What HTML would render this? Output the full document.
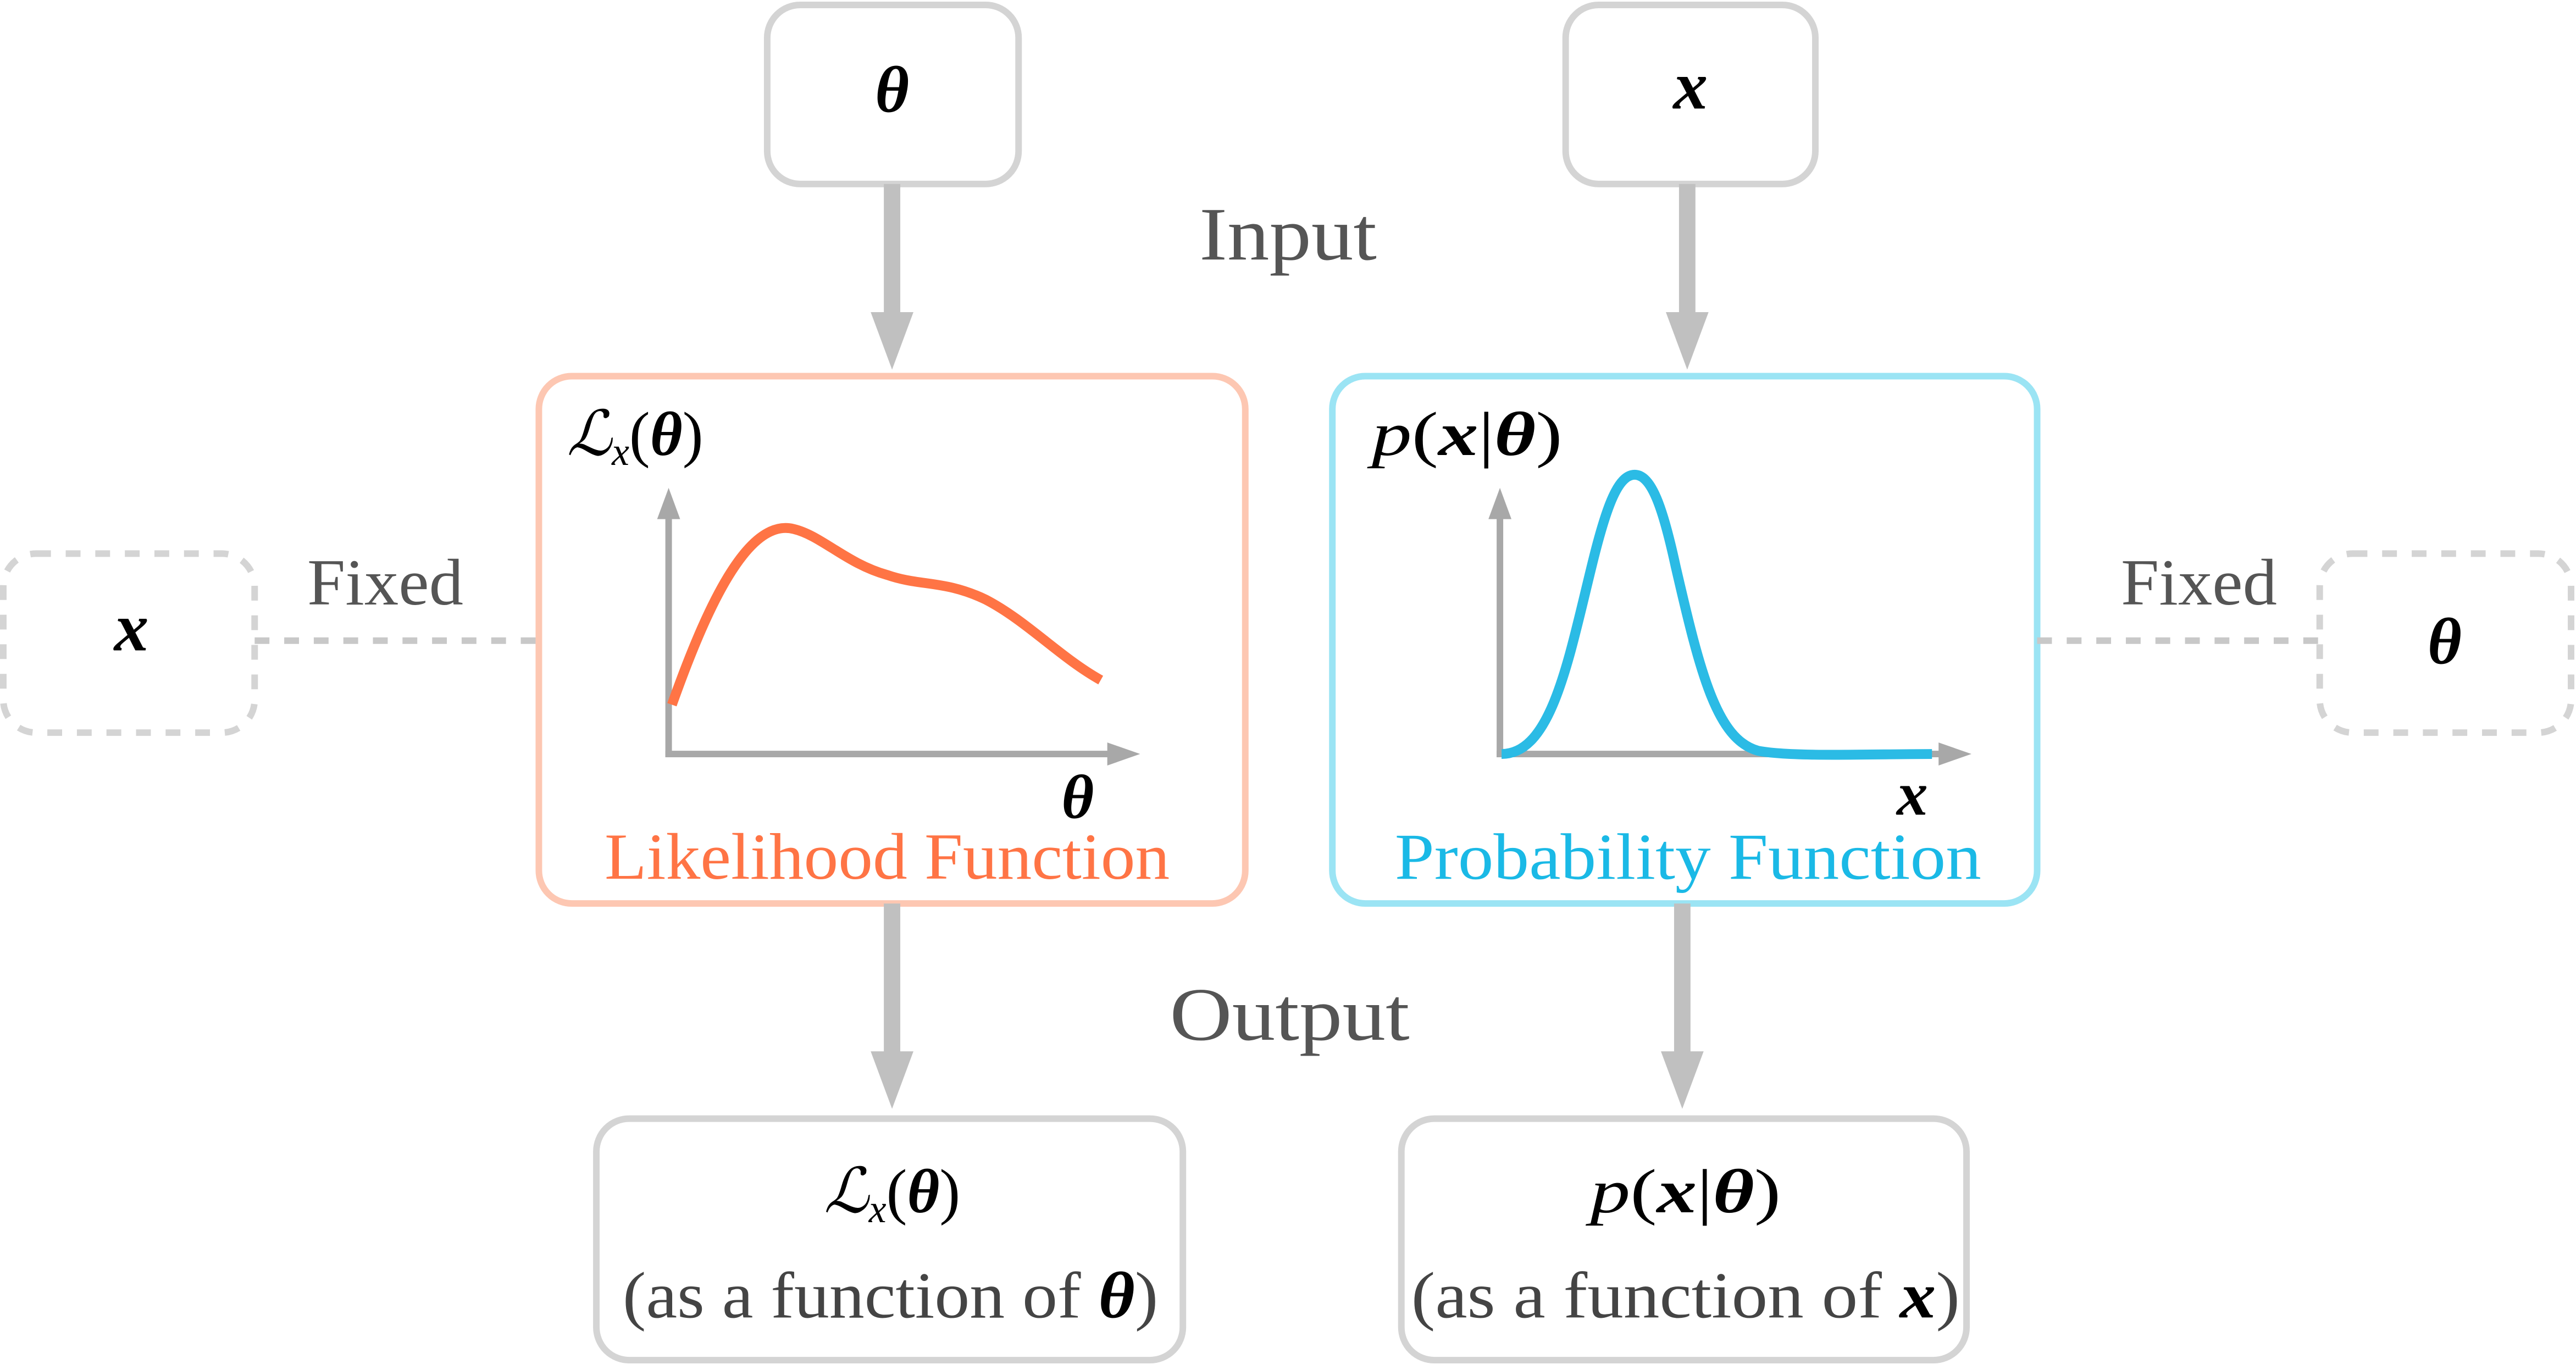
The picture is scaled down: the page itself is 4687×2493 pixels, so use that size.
<!DOCTYPE html>
<html><head><meta charset="utf-8"><style>
html,body{margin:0;padding:0;background:#fff;}
svg{display:block;}
.t{font-family:"Liberation Serif",serif;}
.m{font-family:"Liberation Serif",serif;font-style:italic;font-weight:bold;fill:#000;}
.mi{font-family:"Liberation Serif",serif;font-style:italic;fill:#000;}
</style></head><body>
<svg width="4687" height="2493" viewBox="0 0 1568 834" preserveAspectRatio="none" xmlns="http://www.w3.org/2000/svg">
<!-- top boxes -->
<rect x="467" y="3" width="153" height="109" rx="20" fill="#fff" stroke="#d4d4d4" stroke-width="4"/>
<text x="543" y="68" class="m" font-size="40" text-anchor="middle">θ</text>
<rect x="953" y="3" width="152" height="109" rx="20" fill="#fff" stroke="#d4d4d4" stroke-width="4"/>
<text x="1029" y="66" class="m" font-size="42" text-anchor="middle">x</text>
<!-- input arrows -->
<line x1="543" y1="112" x2="543" y2="192" stroke="#c0c0c0" stroke-width="10"/>
<polygon points="530,190 556,190 543,225" fill="#c0c0c0"/>
<line x1="1027" y1="112" x2="1027" y2="192" stroke="#c0c0c0" stroke-width="10"/>
<polygon points="1014,190 1040,190 1027,225" fill="#c0c0c0"/>
<text x="730" y="158" class="t" font-size="46" fill="#555" textLength="108" lengthAdjust="spacingAndGlyphs">Input</text>
<!-- function boxes -->
<rect x="328" y="229" width="430" height="321" rx="20" fill="#fff" stroke="#fdc7b2" stroke-width="4"/>
<rect x="811" y="229" width="429" height="321" rx="20" fill="#fff" stroke="#9be4f4" stroke-width="4"/>
<!-- side dashed -->
<rect x="2" y="337" width="153" height="109" rx="20" fill="#fff" stroke="#d4d4d4" stroke-width="4" stroke-dasharray="9,9"/>
<text x="80" y="396" class="m" font-size="42" text-anchor="middle">x</text>
<line x1="155" y1="390" x2="328" y2="390" stroke="#c8c8c8" stroke-width="4" stroke-dasharray="9,9"/>
<text x="187" y="368" class="t" font-size="40" fill="#555" textLength="95" lengthAdjust="spacingAndGlyphs">Fixed</text>
<rect x="1412" y="337" width="153" height="109" rx="20" fill="#fff" stroke="#d4d4d4" stroke-width="4" stroke-dasharray="9,9"/>
<text x="1488" y="404" class="m" font-size="40" text-anchor="middle">θ</text>
<line x1="1240" y1="390" x2="1412" y2="390" stroke="#c8c8c8" stroke-width="4" stroke-dasharray="9,9"/>
<text x="1291" y="368" class="t" font-size="40" fill="#555" textLength="95" lengthAdjust="spacingAndGlyphs">Fixed</text>
<!-- likelihood plot -->
<line x1="407" y1="461" x2="407" y2="312" stroke="#a8a8a8" stroke-width="4"/>
<polygon points="400,316 414,316 407,297" fill="#a8a8a8"/>
<line x1="405" y1="459" x2="676" y2="459" stroke="#a8a8a8" stroke-width="4"/>
<polygon points="674,452 674,466 694,459" fill="#a8a8a8"/>
<path d="M409,429 C430,370 455,315 483,322 C500,326 515,343 540,350 C560,357 575,353 600,365 C625,378 645,400 670,414" fill="none" stroke="#ff7445" stroke-width="6"/>
<text x="345" y="277" class="mi" font-size="38" font-family="DejaVu Serif">ℒ<tspan font-size="24" dy="6">x</tspan><tspan dy="-6" font-style="normal" font-weight="normal">(</tspan><tspan font-weight="bold">θ</tspan><tspan font-style="normal" font-weight="normal">)</tspan></text>
<text x="656" y="498" class="m" font-size="38" text-anchor="middle">θ</text>
<text x="368" y="535" class="t" font-size="40" fill="#ff7445" textLength="344" lengthAdjust="spacingAndGlyphs">Likelihood Function</text>
<!-- probability plot -->
<line x1="913" y1="461" x2="913" y2="312" stroke="#a8a8a8" stroke-width="4"/>
<polygon points="906,316 920,316 913,297" fill="#a8a8a8"/>
<line x1="911" y1="459" x2="1182" y2="459" stroke="#a8a8a8" stroke-width="4"/>
<polygon points="1180,452 1180,466 1200,459" fill="#a8a8a8"/>
<path d="M914,459 C945,459 955,400 970,340 C978,308 985,289 995,289 C1005,289 1012,308 1020,345 C1035,410 1045,450 1070,457 C1090,461 1140,459 1176,459" fill="none" stroke="#2bbbe5" stroke-width="6"/>
<text x="835" y="277" class="mi" font-size="38" textLength="116" lengthAdjust="spacingAndGlyphs">p<tspan font-style="normal">(</tspan><tspan font-weight="bold">x</tspan><tspan font-style="normal">|</tspan><tspan font-weight="bold">θ</tspan><tspan font-style="normal">)</tspan></text>
<text x="1164" y="496" class="m" font-size="38" text-anchor="middle">x</text>
<text x="849" y="535" class="t" font-size="40" fill="#1ab9e6" textLength="357" lengthAdjust="spacingAndGlyphs">Probability Function</text>
<!-- output arrows -->
<line x1="543" y1="550" x2="543" y2="642" stroke="#c0c0c0" stroke-width="10"/>
<polygon points="530,640 556,640 543,675" fill="#c0c0c0"/>
<line x1="1024" y1="550" x2="1024" y2="642" stroke="#c0c0c0" stroke-width="10"/>
<polygon points="1011,640 1037,640 1024,675" fill="#c0c0c0"/>
<text x="712" y="633" class="t" font-size="46" fill="#555" textLength="146" lengthAdjust="spacingAndGlyphs">Output</text>
<!-- output boxes -->
<rect x="363" y="681" width="357" height="147" rx="20" fill="#fff" stroke="#d4d4d4" stroke-width="4"/>
<text x="543" y="738" class="mi" font-size="38" text-anchor="middle" font-family="DejaVu Serif">ℒ<tspan font-size="24" dy="6">x</tspan><tspan dy="-6" font-style="normal" font-weight="normal">(</tspan><tspan font-weight="bold">θ</tspan><tspan font-style="normal" font-weight="normal">)</tspan></text>
<text x="379" y="802" class="t" font-size="40" fill="#444" textLength="326" lengthAdjust="spacingAndGlyphs">(as a function of <tspan class="m" fill="#000">θ</tspan>)</text>
<rect x="853" y="681" width="344" height="147" rx="20" fill="#fff" stroke="#d4d4d4" stroke-width="4"/>
<text x="968" y="738" class="mi" font-size="38" textLength="116" lengthAdjust="spacingAndGlyphs">p<tspan font-style="normal">(</tspan><tspan font-weight="bold">x</tspan><tspan font-style="normal">|</tspan><tspan font-weight="bold">θ</tspan><tspan font-style="normal">)</tspan></text>
<text x="859" y="802" class="t" font-size="40" fill="#444" textLength="334" lengthAdjust="spacingAndGlyphs">(as a function of <tspan class="m" fill="#000">x</tspan>)</text>
</svg>
</body></html>
